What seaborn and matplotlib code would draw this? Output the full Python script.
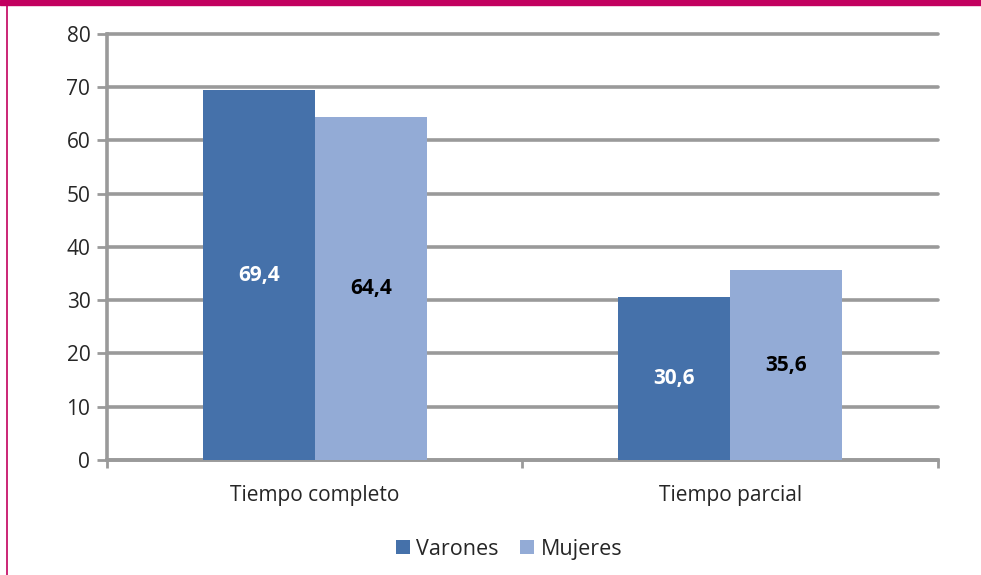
import pandas as pd
import matplotlib
matplotlib.use("Agg")
from matplotlib import pyplot as plt
from matplotlib.patches import Rectangle
from matplotlib.lines import Line2D
import seaborn as sb

# data
categories = ["Tiempo completo", "Tiempo parcial"]
varones = [69.4, 30.6]
mujeres = [64.4, 35.6]
series = ["Varones", "Mujeres"]
colors = ["#4571AA", "#93ABD6"]
label_colors = ["white", "black"]

df = pd.DataFrame({
    "cat": categories * 2,
    "serie": ["Varones"] * 2 + ["Mujeres"] * 2,
    "valor": varones + mujeres,
})

sb.set_style("white")
plt.rcParams["font.family"] = ["Open Sans", "DejaVu Sans"]

fig = plt.figure(figsize=(9.81, 5.75), dpi=100)
ax = fig.add_axes([0.1091, 0.2, 0.847, 0.7409])

sb.barplot(data=df, x="cat", y="valor", hue="serie", hue_order=series,
           palette=colors, width=0.54, gap=0, saturation=1, ax=ax,
           edgecolor="none", zorder=3)

ax.set_ylim(0, 80)
ax.set_xlim(-0.5, 1.5)
ax.set_yticks(range(0, 81, 10))
ax.yaxis.grid(True, color="#9a9a9a", linewidth=2.6, zorder=0)
for gl in ax.get_ygridlines():
    gl.set_clip_on(False)
ax.set_axisbelow(True)
ax.set_xlabel("")
ax.set_ylabel("")

for s in ["top", "right"]:
    ax.spines[s].set_visible(False)
for s in ["left", "bottom"]:
    ax.spines[s].set_color("#9a9a9a")
    ax.spines[s].set_linewidth(2.6)

ax.tick_params(axis="y", length=7, width=2, color="#9a9a9a", labelsize=15,
               pad=5, left=True)
ax.tick_params(axis="x", length=0, labelsize=15, pad=18)

# category boundary ticks on x axis
ax.set_xticks([-0.5, 0.5, 1.5], minor=True)
ax.tick_params(axis="x", which="minor", length=6, width=2, color="#9a9a9a",
               bottom=True)

# value labels, centered in bars
for cont, lc in zip(ax.containers, label_colors):
    ax.bar_label(cont, labels=[f"{v:.1f}".replace(".", ",") for v in cont.datavalues],
                 label_type="center", color=lc, fontsize=15, fontweight="bold")

ax.legend(loc="center", bbox_to_anchor=(0.484, -0.209), ncol=2,
          frameon=False, fontsize=15.5, handlelength=0.65, handleheight=0.65,
          handletextpad=0.3, columnspacing=1.0)

# magenta frame decorations
fig.patches.append(Rectangle((0, 1 - 5 / 575), 1, 5 / 575, transform=fig.transFigure,
                             color="#C2005F", zorder=10))
fig.lines.append(Line2D([7 / 981, 7 / 981], [0, 1], transform=fig.transFigure,
                        color="#C2005F", linewidth=1.2))

fig.savefig("out.png", dpi=100)
